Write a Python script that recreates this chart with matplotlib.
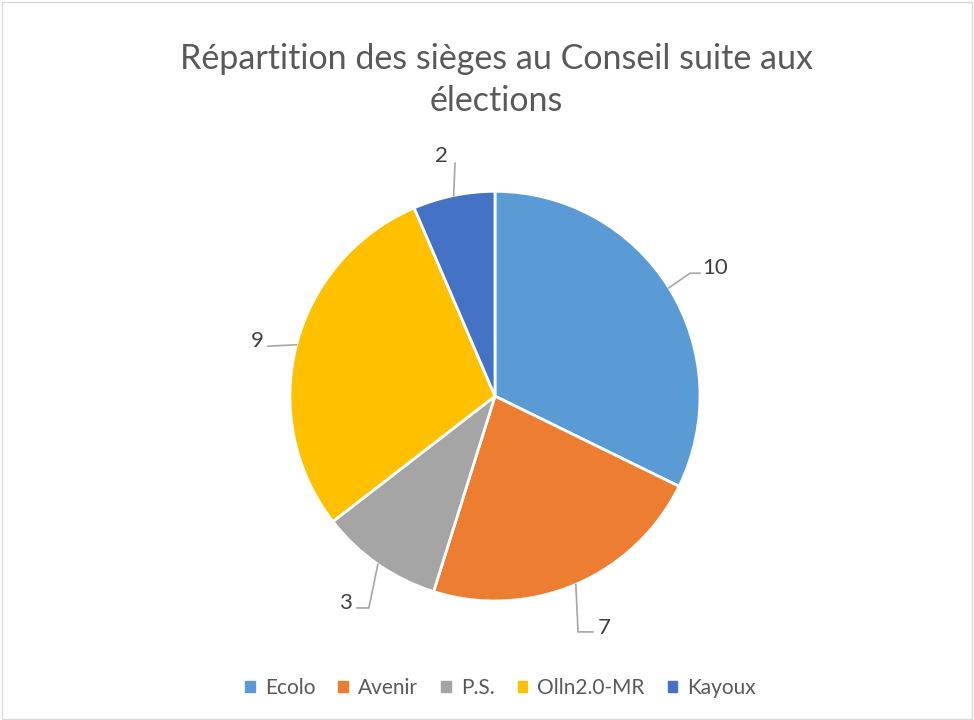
import numpy as np
import matplotlib.pyplot as plt
from matplotlib.patches import Rectangle

parties = ["Ecolo", "Avenir", "P.S.", "Olln2.0-MR", "Kayoux"]
seats = [10, 7, 3, 9, 2]
colors = ["#5B9BD5", "#ED7D31", "#A5A5A5", "#FFC000", "#4472C4"]

# label leader lines: elbow point, end point, text position (data units, radius = 1)
elbows = [(0.951, 0.600), (0.405, -1.151), (-0.615, -1.034), (-1.107, 0.244), (-0.195, 1.137)]
ends = [(1.0, 0.600), (0.478, -1.151), (-0.673, -1.034), (-1.107, 0.244), (-0.195, 1.137)]
texts = [(1.01, 0.625), (0.50, -1.13), (-0.70, -1.01), (-1.13, 0.27), (-0.23, 1.17)]
aligns = ["left", "left", "right", "right", "right"]

plt.rcParams['font.family'] = ['Lato', 'DejaVu Sans']
fig = plt.figure(figsize=(9.74, 7.2), dpi=100)
fig.patches.append(Rectangle((0.002, 0.002), 0.996, 0.995, transform=fig.transFigure,
                             fill=False, edgecolor="#D9D9D9", linewidth=1))

ax = fig.add_axes([0.2977, 0.1653, 0.421, 0.569])
wedges, _ = ax.pie(seats, colors=colors, startangle=90, counterclock=False,
                   radius=1, wedgeprops=dict(edgecolor="white", linewidth=2))
ax.set_xlim(-1, 1)
ax.set_ylim(-1, 1)
ax.set_aspect("auto")

for w, v, el, en, tp, ha in zip(wedges, seats, elbows, ends, texts, aligns):
    mid = np.deg2rad((w.theta1 + w.theta2) / 2)
    x0, y0 = np.cos(mid), np.sin(mid)
    ax.plot([x0, el[0], en[0]], [y0, el[1], en[1]], color="#A6A6A6", lw=1.2,
            clip_on=False, zorder=3)
    ax.text(tp[0], tp[1], str(v), ha=ha, va="center", fontsize=16, color="#404040")

fig.text(0.51, 0.889, "Répartition des sièges au Conseil suite aux\nélections",
         ha="center", va="center", fontsize=24.5, color="#595959", linespacing=1.36)

handles = [Rectangle((0, 0), 1, 1, color=c) for c in colors]
fig.legend(handles, parties, loc="center", bbox_to_anchor=(0.514, 0.045), ncol=5,
           frameon=False, fontsize=15, labelcolor="#595959", handlelength=0.45,
           handleheight=0.45, handletextpad=0.5, columnspacing=1.1)

fig.savefig("out.png", dpi=100)
